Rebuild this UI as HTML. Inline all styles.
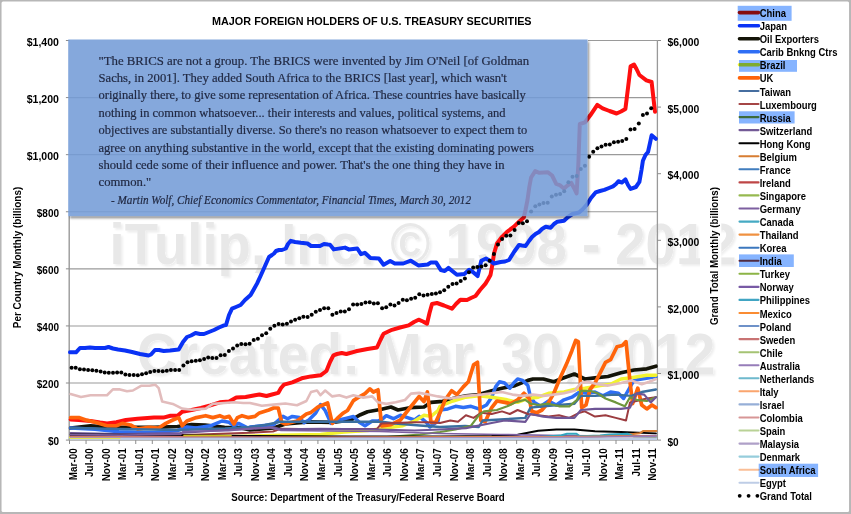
<!DOCTYPE html>
<html><head><meta charset="utf-8"><title>Major Foreign Holders of U.S. Treasury Securities</title>
<style>html,body{margin:0;padding:0;background:#b7b7b7;}body{width:851px;height:514px;overflow:hidden;}svg{display:block;}
.b{font-family:"Liberation Sans",sans-serif;font-weight:bold;fill:#000;}
.q{font-family:"Liberation Serif",serif;fill:#222a44;stroke:#222a44;stroke-width:0.2px;}
</style></head><body>
<svg width="851" height="514" viewBox="0 0 851 514">
<defs><filter id="sh" x="-5%" y="-5%" width="110%" height="115%"><feGaussianBlur in="SourceAlpha" stdDeviation="1.2"/><feOffset dx="1.2" dy="1.6"/><feComponentTransfer><feFuncA type="linear" slope="0.55"/></feComponentTransfer><feMerge><feMergeNode/><feMergeNode in="SourceGraphic"/></feMerge></filter>
<filter id="wm" x="-2%" y="-10%" width="104%" height="130%"><feGaussianBlur in="SourceAlpha" stdDeviation="1.0"/><feOffset dx="2" dy="2"/><feComponentTransfer><feFuncA type="linear" slope="0.07"/></feComponentTransfer><feMerge><feMergeNode/><feMergeNode in="SourceGraphic"/></feMerge></filter>
<filter id="bl" x="-5%" y="-5%" width="110%" height="115%"><feGaussianBlur stdDeviation="1.1"/></filter>
</defs>
<rect x="0" y="0" width="851" height="514" fill="#b7b7b7"/>
<rect x="1.55" y="1.45" width="847.5" height="510.65" rx="1.5" ry="1.5" fill="#fff"/>
<g filter="url(#wm)" fill="#e8e8e8" font-family="&quot;Liberation Sans&quot;,sans-serif" font-weight="bold">
<text x="109.6" y="264" font-size="56.8" textLength="627" lengthAdjust="spacingAndGlyphs">iTulip, Inc. © 1998 - 2012</text>
<text x="137" y="374.2" font-size="56.8" textLength="578.5" lengthAdjust="spacingAndGlyphs">Created: Mar. 30, 2012</text>
</g>
<line x1="69.5" y1="383.01" x2="657.4" y2="383.01" stroke="#9a9a9a" stroke-width="1.1"/>
<line x1="69.5" y1="325.93" x2="657.4" y2="325.93" stroke="#9a9a9a" stroke-width="1.1"/>
<line x1="69.5" y1="268.84" x2="657.4" y2="268.84" stroke="#9a9a9a" stroke-width="1.1"/>
<line x1="69.5" y1="211.76" x2="657.4" y2="211.76" stroke="#9a9a9a" stroke-width="1.1"/>
<line x1="69.5" y1="154.67" x2="657.4" y2="154.67" stroke="#9a9a9a" stroke-width="1.1"/>
<line x1="69.5" y1="97.59" x2="657.4" y2="97.59" stroke="#9a9a9a" stroke-width="1.1"/>
<line x1="588" y1="40.50" x2="657.4" y2="40.50" stroke="#9a9a9a" stroke-width="1.1"/>
<line x1="69.2" y1="216" x2="69.2" y2="440.1" stroke="#999" stroke-width="1.4"/>
<line x1="657.4" y1="40.5" x2="657.4" y2="440.1" stroke="#999" stroke-width="1.3"/>
<line x1="69.5" y1="440.1" x2="657.4" y2="440.1" stroke="#8c8c8c" stroke-width="1"/>
<line x1="65.9" y1="440.10" x2="69.5" y2="440.10" stroke="#8c8c8c" stroke-width="1"/>
<line x1="65.9" y1="383.01" x2="69.5" y2="383.01" stroke="#8c8c8c" stroke-width="1"/>
<line x1="65.9" y1="325.93" x2="69.5" y2="325.93" stroke="#8c8c8c" stroke-width="1"/>
<line x1="65.9" y1="268.84" x2="69.5" y2="268.84" stroke="#8c8c8c" stroke-width="1"/>
<line x1="65.9" y1="211.76" x2="69.5" y2="211.76" stroke="#8c8c8c" stroke-width="1"/>
<line x1="65.9" y1="154.67" x2="69.5" y2="154.67" stroke="#8c8c8c" stroke-width="1"/>
<line x1="65.9" y1="97.59" x2="69.5" y2="97.59" stroke="#8c8c8c" stroke-width="1"/>
<line x1="65.9" y1="40.50" x2="69.5" y2="40.50" stroke="#8c8c8c" stroke-width="1"/>
<line x1="657.4" y1="440.10" x2="661.0" y2="440.10" stroke="#8c8c8c" stroke-width="1"/>
<line x1="657.4" y1="373.50" x2="661.0" y2="373.50" stroke="#8c8c8c" stroke-width="1"/>
<line x1="657.4" y1="306.90" x2="661.0" y2="306.90" stroke="#8c8c8c" stroke-width="1"/>
<line x1="657.4" y1="240.30" x2="661.0" y2="240.30" stroke="#8c8c8c" stroke-width="1"/>
<line x1="657.4" y1="173.70" x2="661.0" y2="173.70" stroke="#8c8c8c" stroke-width="1"/>
<line x1="657.4" y1="107.10" x2="661.0" y2="107.10" stroke="#8c8c8c" stroke-width="1"/>
<line x1="657.4" y1="40.50" x2="661.0" y2="40.50" stroke="#8c8c8c" stroke-width="1"/>
<line x1="69.50" y1="440.1" x2="69.50" y2="444.0" stroke="#8c8c8c" stroke-width="1"/>
<line x1="86.06" y1="440.1" x2="86.06" y2="444.0" stroke="#8c8c8c" stroke-width="1"/>
<line x1="102.62" y1="440.1" x2="102.62" y2="444.0" stroke="#8c8c8c" stroke-width="1"/>
<line x1="119.18" y1="440.1" x2="119.18" y2="444.0" stroke="#8c8c8c" stroke-width="1"/>
<line x1="135.74" y1="440.1" x2="135.74" y2="444.0" stroke="#8c8c8c" stroke-width="1"/>
<line x1="152.30" y1="440.1" x2="152.30" y2="444.0" stroke="#8c8c8c" stroke-width="1"/>
<line x1="168.86" y1="440.1" x2="168.86" y2="444.0" stroke="#8c8c8c" stroke-width="1"/>
<line x1="185.42" y1="440.1" x2="185.42" y2="444.0" stroke="#8c8c8c" stroke-width="1"/>
<line x1="201.98" y1="440.1" x2="201.98" y2="444.0" stroke="#8c8c8c" stroke-width="1"/>
<line x1="218.55" y1="440.1" x2="218.55" y2="444.0" stroke="#8c8c8c" stroke-width="1"/>
<line x1="235.11" y1="440.1" x2="235.11" y2="444.0" stroke="#8c8c8c" stroke-width="1"/>
<line x1="251.67" y1="440.1" x2="251.67" y2="444.0" stroke="#8c8c8c" stroke-width="1"/>
<line x1="268.23" y1="440.1" x2="268.23" y2="444.0" stroke="#8c8c8c" stroke-width="1"/>
<line x1="284.79" y1="440.1" x2="284.79" y2="444.0" stroke="#8c8c8c" stroke-width="1"/>
<line x1="301.35" y1="440.1" x2="301.35" y2="444.0" stroke="#8c8c8c" stroke-width="1"/>
<line x1="317.91" y1="440.1" x2="317.91" y2="444.0" stroke="#8c8c8c" stroke-width="1"/>
<line x1="334.47" y1="440.1" x2="334.47" y2="444.0" stroke="#8c8c8c" stroke-width="1"/>
<line x1="351.03" y1="440.1" x2="351.03" y2="444.0" stroke="#8c8c8c" stroke-width="1"/>
<line x1="367.59" y1="440.1" x2="367.59" y2="444.0" stroke="#8c8c8c" stroke-width="1"/>
<line x1="384.15" y1="440.1" x2="384.15" y2="444.0" stroke="#8c8c8c" stroke-width="1"/>
<line x1="400.71" y1="440.1" x2="400.71" y2="444.0" stroke="#8c8c8c" stroke-width="1"/>
<line x1="417.27" y1="440.1" x2="417.27" y2="444.0" stroke="#8c8c8c" stroke-width="1"/>
<line x1="433.83" y1="440.1" x2="433.83" y2="444.0" stroke="#8c8c8c" stroke-width="1"/>
<line x1="450.39" y1="440.1" x2="450.39" y2="444.0" stroke="#8c8c8c" stroke-width="1"/>
<line x1="466.95" y1="440.1" x2="466.95" y2="444.0" stroke="#8c8c8c" stroke-width="1"/>
<line x1="483.51" y1="440.1" x2="483.51" y2="444.0" stroke="#8c8c8c" stroke-width="1"/>
<line x1="500.07" y1="440.1" x2="500.07" y2="444.0" stroke="#8c8c8c" stroke-width="1"/>
<line x1="516.64" y1="440.1" x2="516.64" y2="444.0" stroke="#8c8c8c" stroke-width="1"/>
<line x1="533.20" y1="440.1" x2="533.20" y2="444.0" stroke="#8c8c8c" stroke-width="1"/>
<line x1="549.76" y1="440.1" x2="549.76" y2="444.0" stroke="#8c8c8c" stroke-width="1"/>
<line x1="566.32" y1="440.1" x2="566.32" y2="444.0" stroke="#8c8c8c" stroke-width="1"/>
<line x1="582.88" y1="440.1" x2="582.88" y2="444.0" stroke="#8c8c8c" stroke-width="1"/>
<line x1="599.44" y1="440.1" x2="599.44" y2="444.0" stroke="#8c8c8c" stroke-width="1"/>
<line x1="616.00" y1="440.1" x2="616.00" y2="444.0" stroke="#8c8c8c" stroke-width="1"/>
<line x1="632.56" y1="440.1" x2="632.56" y2="444.0" stroke="#8c8c8c" stroke-width="1"/>
<line x1="649.12" y1="440.1" x2="649.12" y2="444.0" stroke="#8c8c8c" stroke-width="1"/>
<g fill="none" stroke-linejoin="round" stroke-linecap="round">
<polyline points="70.6,419.4 78.8,419.9 90.5,421.0 100.0,422.5 107.0,423.4 116.4,422.3 125.8,420.0 137.6,418.7 154.0,417.6 163.4,417.6 170.5,415.7 177.5,415.7 182.2,411.7 191.6,410.0 201.0,408.0 210.4,405.3 219.8,402.3 229.2,401.6 236.3,397.6 245.7,397.0 255.0,395.2 259.4,394.5 266.5,396.0 272.0,394.5 278.2,392.9 281.0,388.0 284.0,384.7 292.3,382.3 301.7,378.3 311.0,376.4 320.5,375.3 326.4,371.0 330.0,362.0 333.4,355.3 337.0,354.0 341.7,353.0 346.4,354.0 355.8,351.3 367.5,349.0 377.0,347.5 380.4,340.0 383.5,333.8 392.0,329.8 400.0,327.5 408.6,325.4 414.0,322.0 418.6,319.7 423.0,321.5 427.0,323.7 429.5,313.0 432.0,304.0 437.0,303.0 444.0,305.5 452.0,308.7 456.0,304.0 460.4,299.7 467.0,300.0 471.0,298.0 475.5,296.0 480.0,290.0 485.5,283.6 488.0,279.5 490.5,275.0 492.5,264.0 494.0,253.5 497.0,243.5 502.0,236.8 507.0,231.8 514.0,226.7 519.0,221.7 523.8,217.5 525.5,210.0 527.5,200.0 529.3,187.0 531.1,177.5 535.2,171.1 539.3,172.8 548.0,172.3 552.1,175.5 556.2,183.9 559.7,185.1 563.8,188.6 567.5,185.5 571.3,182.8 574.0,188.0 576.6,193.5 578.3,165.0 579.8,124.0 585.0,122.3 590.3,115.3 597.3,104.8 602.6,108.3 609.5,111.0 616.6,113.5 621.0,111.5 625.4,109.0 628.0,88.0 630.6,66.3 634.0,64.5 636.5,69.0 639.4,75.0 646.4,80.3 651.6,82.0 653.3,97.0 655.0,111.8" stroke="#ff0f0f" stroke-width="4.0"/>
<polyline points="70.0,352.3 76.0,352.3 80.0,348.0 85.0,348.0 90.0,347.5 95.0,348.0 100.0,348.0 105.0,348.0 108.5,347.0 113.0,348.5 118.0,349.5 125.0,350.5 132.0,352.0 140.0,354.0 148.6,355.5 151.0,354.5 155.0,350.0 159.0,350.0 163.7,351.0 170.0,350.5 178.7,349.5 183.0,342.0 187.0,337.0 191.0,335.5 195.5,333.0 200.0,334.0 204.0,334.0 209.0,332.0 214.0,330.0 219.0,327.5 224.0,325.4 226.0,325.0 229.0,315.0 232.0,308.7 236.0,307.0 240.6,305.0 245.0,300.0 250.6,295.0 254.0,289.0 257.0,283.6 261.0,275.0 265.0,266.0 269.0,257.0 272.0,255.0 274.0,253.5 276.0,251.0 279.0,250.0 282.0,250.0 285.8,248.5 288.0,244.0 290.8,240.8 295.0,242.0 300.8,242.8 307.5,243.5 311.0,246.0 314.0,246.0 320.0,246.0 324.0,244.0 328.0,244.5 330.0,244.7 333.8,249.4 345.0,247.6 348.8,249.4 357.3,248.5 361.0,254.1 364.8,252.8 370.4,257.9 378.9,258.5 383.6,264.8 390.2,261.1 394.8,263.5 403.3,263.5 410.8,260.7 418.3,265.4 427.7,264.5 430.6,262.6 436.2,262.6 440.9,270.1 444.7,271.1 448.4,267.9 456.9,274.8 464.4,273.9 469.1,269.7 472.9,272.0 477.6,276.1 481.3,260.7 486.0,258.5 489.8,260.7 494.0,263.5 500.5,262.0 505.0,261.5 509.0,260.0 514.0,252.0 519.0,245.0 522.0,245.5 525.6,246.0 529.0,241.0 532.0,237.0 535.5,234.0 539.0,232.0 542.0,229.0 545.7,226.8 550.7,227.8 554.0,224.0 557.4,221.7 564.0,220.7 568.0,217.0 572.5,214.0 579.0,212.5 583.0,209.0 586.8,204.6 591.0,198.0 595.6,192.4 600.0,191.0 604.3,189.9 609.0,188.0 613.0,186.4 616.0,184.0 618.4,181.2 621.9,182.6 625.4,179.4 628.0,185.0 630.6,188.9 635.9,187.0 639.4,181.9 641.5,170.0 642.9,160.8 645.5,155.0 648.0,152.0 650.0,143.0 651.6,135.3 655.8,138.8" stroke="#0a32f5" stroke-width="4.0"/>
<polyline points="70.6,428.0 90.5,425.8 107.0,427.0 130.0,427.4 154.0,427.4 177.5,426.5 191.6,424.6 205.0,425.0 224.5,427.4 240.0,427.6 250.0,430.0 273.5,428.0 285.3,424.0 308.8,421.8 332.3,422.3 351.0,420.0 360.5,414.7 367.5,411.7 381.6,409.3 391.0,407.0 398.0,410.0 409.8,407.7 424.0,407.0 431.0,402.3 442.7,401.3 453.0,398.5 465.9,395.9 478.8,394.6 491.7,390.8 502.0,388.2 515.0,385.6 527.9,380.4 533.0,379.0 543.4,379.0 553.8,381.7 564.0,377.8 574.4,374.0 584.8,379.0 595.0,377.8 608.0,376.5 621.0,372.7 634.0,370.0 646.8,368.8 655.9,366.2" stroke="#141408" stroke-width="3.7"/>
<polyline points="70.6,428.0 95.0,429.3 118.8,431.7 154.0,432.8 177.5,430.5 187.0,427.0 196.0,428.0 210.4,425.8 222.0,421.0 229.0,422.3 234.0,425.8 238.6,423.4 248.0,428.0 250.0,427.0 261.8,425.8 273.5,424.6 283.0,416.4 287.6,418.7 292.3,416.4 299.4,417.6 304.0,422.7 308.8,420.0 315.8,412.9 320.5,404.6 325.2,410.5 331.0,423.4 339.3,420.0 348.7,417.6 353.4,416.4 359.3,422.3 365.0,425.8 372.2,421.0 378.0,421.0 382.8,418.7 386.3,415.7 393.4,418.7 400.4,415.2 407.5,417.6 414.5,420.0 419.2,416.4 426.3,422.3 429.8,427.0 438.0,421.0 440.0,410.0 447.8,408.9 455.5,406.3 463.3,407.6 471.0,406.3 478.8,408.9 486.5,405.0 491.7,397.2 495.6,386.9 499.5,381.7 504.6,383.0 509.8,388.2 513.7,383.0 517.6,379.0 522.7,380.4 527.9,385.6 530.5,397.2 534.4,402.4 540.8,406.3 548.6,401.0 556.3,405.0 564.0,399.8 571.9,397.2 579.6,392.0 587.4,393.3 595.0,392.0 602.9,395.9 610.6,392.0 618.4,393.3 623.6,398.5 628.7,389.5 633.9,380.4 641.7,379.0 649.4,377.8 655.9,376.5" stroke="#2e6ef5" stroke-width="3.5"/>
<polyline points="70.6,438.0 200.0,437.5 280.5,435.2 320.5,434.5 344.0,432.0 367.5,430.5 381.6,428.8 391.0,427.4 402.8,425.8 414.5,421.0 424.0,415.2 431.0,416.4 438.0,410.5 440.0,406.3 453.0,401.0 465.9,397.2 478.8,395.9 491.7,397.2 507.2,399.8 517.6,402.4 527.9,398.5 538.2,397.2 548.6,393.3 564.0,392.0 574.4,389.5 584.8,388.2 600.3,385.6 610.6,384.3 621.0,379.0 631.3,377.8 646.8,375.2 655.9,375.2" stroke="#f2f230" stroke-width="3.4"/>
<polyline points="70.6,417.6 78.8,417.6 85.9,420.0 95.3,422.3 107.0,425.8 116.4,425.8 122.3,423.4 130.5,425.0 137.6,428.8 149.3,427.4 158.7,428.0 165.8,423.4 172.8,420.0 178.7,417.6 182.2,425.8 186.9,421.0 196.3,417.6 205.7,415.7 212.8,417.6 219.8,415.7 224.5,417.6 229.2,416.4 233.9,424.0 237.4,417.6 242.0,415.7 248.0,417.6 255.0,416.4 259.4,412.9 268.8,410.0 273.5,408.0 278.2,408.0 281.7,422.3 285.3,424.0 297.0,421.0 306.4,414.0 311.0,412.4 318.0,407.0 327.6,403.0 332.3,423.4 337.0,418.7 342.8,413.3 347.5,410.5 353.4,400.6 358.0,397.6 365.0,393.6 369.9,388.9 373.4,392.0 378.0,389.8 381.6,425.8 391.0,424.6 400.4,420.0 409.8,408.0 419.2,396.4 423.9,401.6 427.4,392.0 431.0,422.3 435.7,422.3 440.0,412.7 445.2,399.8 451.6,390.8 456.8,394.6 463.3,386.9 468.4,381.7 473.6,364.9 477.5,362.3 480.8,420.5 485.2,421.8 491.7,407.6 496.9,401.0 504.6,402.4 511.0,403.7 517.6,399.8 524.0,393.3 529.2,398.5 531.8,411.4 537.0,412.7 542.0,410.0 548.6,402.4 553.8,393.3 560.2,377.8 566.7,363.6 571.9,350.7 575.7,340.3 578.3,341.6 581.7,407.6 586.0,405.0 590.0,389.5 595.0,383.0 600.3,372.7 605.5,362.3 610.6,359.7 617.0,346.8 622.3,345.5 626.0,341.6 630.0,381.7 632.6,403.7 637.8,388.2 641.7,405.0 646.8,408.9 652.0,405.0 655.9,407.6" stroke="#ff640a" stroke-width="3.7"/>
<polyline points="70.6,428.0 120.0,429.0 180.0,430.0 225.0,428.5 250.0,427.0 265.0,425.0 280.5,421.8 330.0,421.8 381.6,421.8 395.0,423.5 420.0,425.5 440.0,427.0 465.0,426.0 478.8,427.0 482.7,420.5 504.6,419.2 525.3,417.9 530.5,407.6 543.4,406.3 559.0,405.0 574.4,403.7 580.9,395.9 595.0,395.9 615.8,394.6 631.3,395.9 641.7,392.0 655.9,389.5" stroke="#3a6f9f" stroke-width="2.4"/>
<polyline points="70.6,436.0 150.0,436.0 200.0,434.5 250.0,432.8 273.0,431.5 280.5,428.8 320.0,429.3 377.0,428.8 381.6,423.4 414.5,422.3 428.0,422.3 440.0,423.0 450.3,420.5 458.0,421.8 465.9,415.3 473.6,417.9 481.4,412.7 491.7,414.0 502.0,411.4 509.8,414.0 517.6,410.0 527.9,414.0 538.2,415.3 548.6,416.6 559.0,415.3 569.3,417.9 579.6,412.7 584.8,411.4 595.0,416.6 605.5,415.3 615.8,417.9 626.0,420.5 630.0,402.4 636.5,401.0 646.8,398.5 655.9,397.2" stroke="#9c3c40" stroke-width="2.0"/>
<polyline points="70.6,439.0 300.0,438.8 380.0,437.5 420.0,434.5 440.0,432.0 455.5,429.5 471.0,425.7 478.8,415.3 484.0,411.4 496.9,410.0 507.2,406.3 515.0,402.4 525.3,399.8 530.5,403.7 538.2,405.0 548.6,403.7 559.0,406.3 569.3,406.3 577.0,399.8 580.9,390.8 590.0,390.8 597.7,393.3 605.5,398.5 615.8,402.4 624.9,406.3 630.0,397.2 636.5,399.8 646.8,401.0 655.9,397.2" stroke="#6e963c" stroke-width="2.2"/>
<polyline points="70.6,433.0 120.0,434.0 180.0,433.0 225.0,430.0 250.0,428.8 273.5,427.4 280.5,429.3 320.5,428.8 367.5,429.3 414.5,430.5 440.0,429.5 465.9,428.2 491.7,423.0 504.6,420.5 525.3,421.8 530.5,414.0 543.4,416.6 556.3,417.9 574.4,417.9 580.9,410.0 595.0,408.9 621.0,408.9 630.0,407.6 636.5,393.3 644.2,394.6 650.7,402.4 655.9,397.2" stroke="#6e5596" stroke-width="2.2"/>
<polyline points="70.6,434.5 150.0,435.0 250.0,436.0 350.0,436.5 440.0,436.5 491.7,436.0 517.6,434.7 538.2,430.8 556.3,429.5 574.4,429.5 595.0,431.3 621.0,432.0 655.9,433.4" stroke="#000000" stroke-width="1.9"/>
<polyline points="70.6,434.6 120.0,435.2 180.6,434.4 183.0,431.6 205.0,431.2 228.8,430.6 252.0,428.4 270.0,427.4 281.0,430.5 330.0,431.0 380.0,431.5 440.0,433.5 500.0,434.5 560.0,435.5 620.0,436.0 655.9,435.6" stroke="#7d5fa0" stroke-width="1.7"/>
<polyline points="70.6,438.5 400.0,438.3 560.0,437.5 600.0,436.5 629.0,434.4 640.0,433.2 643.4,430.9 656.4,430.9" stroke="#d77d32" stroke-width="2.0"/>
<polyline points="70.6,438.6 300.0,438.4 480.0,438.0 540.0,437.0 560.0,435.6 567.0,433.8 576.5,433.8 580.0,436.2 600.0,435.5 609.4,434.4 628.0,433.8 634.0,436.5 655.9,437.0" stroke="#32a5be" stroke-width="2.0"/>
<polyline points="70.6,436.6 200.0,436.8 330.0,437.2 450.0,437.0 560.0,436.6 655.9,435.8" stroke="#c87373" stroke-width="1.4"/>
<polyline points="70.6,437.4 250.0,437.6 400.0,437.2 520.0,436.9 600.0,436.4 655.9,436.8" stroke="#f09141" stroke-width="1.4"/>
<polyline points="70.6,437.9 300.0,437.9 480.0,437.6 580.0,437.2 655.9,436.2" stroke="#967db9" stroke-width="1.4"/>
<polyline points="184.0,435.5 231.0,435.5" stroke="#c8c020" stroke-width="1.6"/>
<polyline points="70.6,394.0 81.0,397.0 90.5,395.2 107.0,395.2 112.9,389.4 120.0,389.4 127.0,391.2 132.9,390.5 141.0,385.8 149.3,385.8 155.2,384.7 158.7,388.2 162.2,401.6 172.8,403.9 182.2,408.6 191.6,409.8 205.7,408.6 212.8,403.9 224.5,403.0 233.9,402.3 243.3,403.0 250.0,403.0 261.8,405.8 273.5,404.6 285.3,403.5 297.0,405.3 306.4,401.0 311.0,392.0 317.0,390.5 320.5,395.2 325.2,390.5 332.3,396.4 339.3,395.2 346.4,397.6 353.4,395.2 362.8,397.6 372.2,396.4 378.0,402.3 386.3,403.9 395.7,402.3 405.0,400.0 411.0,393.6 419.2,392.9 428.6,394.5 438.0,396.4 450.3,398.5 465.9,395.9 481.4,394.6 491.7,393.3 502.0,392.0 512.4,394.6 522.7,395.9 533.0,394.6 543.4,395.9 553.8,394.6 564.0,393.3 574.4,390.8 580.9,383.0 587.4,381.7 597.7,384.3 608.0,385.6 621.0,383.0 631.3,380.4 641.7,384.3 649.4,381.7 655.9,379.0" stroke="#e2bcbc" stroke-width="2.6"/>
<polyline points="70.6,438.9 655.9,438.9" stroke="#bccbe3" stroke-width="2.4"/>
<polyline points="70.6,438.5 120.0,438.6" stroke="#e6e650" stroke-width="1.0"/>
</g>
<g fill="#000">
<circle cx="71.6" cy="367.7" r="2.0"/>
<circle cx="75.7" cy="367.8" r="2.0"/>
<circle cx="79.9" cy="369.3" r="2.0"/>
<circle cx="84.0" cy="369.6" r="2.0"/>
<circle cx="88.1" cy="369.9" r="2.0"/>
<circle cx="92.3" cy="370.2" r="2.0"/>
<circle cx="96.4" cy="370.8" r="2.0"/>
<circle cx="100.6" cy="371.4" r="2.0"/>
<circle cx="104.7" cy="372.4" r="2.0"/>
<circle cx="108.8" cy="372.8" r="2.0"/>
<circle cx="113.0" cy="372.7" r="2.0"/>
<circle cx="117.1" cy="372.5" r="2.0"/>
<circle cx="121.3" cy="372.5" r="2.0"/>
<circle cx="125.4" cy="374.6" r="2.0"/>
<circle cx="129.5" cy="375.0" r="2.0"/>
<circle cx="133.7" cy="375.1" r="2.0"/>
<circle cx="137.8" cy="375.2" r="2.0"/>
<circle cx="142.0" cy="374.2" r="2.0"/>
<circle cx="146.1" cy="373.2" r="2.0"/>
<circle cx="150.2" cy="372.0" r="2.0"/>
<circle cx="154.4" cy="371.0" r="2.0"/>
<circle cx="158.5" cy="371.1" r="2.0"/>
<circle cx="162.7" cy="371.3" r="2.0"/>
<circle cx="166.8" cy="370.7" r="2.0"/>
<circle cx="170.9" cy="370.0" r="2.0"/>
<circle cx="175.1" cy="370.0" r="2.0"/>
<circle cx="179.2" cy="370.0" r="2.0"/>
<circle cx="183.4" cy="365.6" r="2.0"/>
<circle cx="187.5" cy="362.3" r="2.0"/>
<circle cx="191.6" cy="361.2" r="2.0"/>
<circle cx="195.8" cy="360.8" r="2.0"/>
<circle cx="199.9" cy="360.3" r="2.0"/>
<circle cx="204.1" cy="358.9" r="2.0"/>
<circle cx="208.2" cy="357.4" r="2.0"/>
<circle cx="212.3" cy="358.0" r="2.0"/>
<circle cx="216.5" cy="357.9" r="2.0"/>
<circle cx="220.6" cy="355.2" r="2.0"/>
<circle cx="224.8" cy="355.1" r="2.0"/>
<circle cx="228.9" cy="351.0" r="2.0"/>
<circle cx="233.0" cy="348.6" r="2.0"/>
<circle cx="237.2" cy="345.5" r="2.0"/>
<circle cx="241.3" cy="343.9" r="2.0"/>
<circle cx="245.5" cy="344.2" r="2.0"/>
<circle cx="249.6" cy="343.8" r="2.0"/>
<circle cx="253.7" cy="340.0" r="2.0"/>
<circle cx="257.9" cy="338.8" r="2.0"/>
<circle cx="262.0" cy="335.3" r="2.0"/>
<circle cx="266.2" cy="333.2" r="2.0"/>
<circle cx="270.3" cy="328.7" r="2.0"/>
<circle cx="274.4" cy="325.8" r="2.0"/>
<circle cx="278.6" cy="323.9" r="2.0"/>
<circle cx="282.7" cy="324.6" r="2.0"/>
<circle cx="286.9" cy="323.7" r="2.0"/>
<circle cx="291.0" cy="321.4" r="2.0"/>
<circle cx="295.1" cy="319.7" r="2.0"/>
<circle cx="299.3" cy="318.3" r="2.0"/>
<circle cx="303.4" cy="316.7" r="2.0"/>
<circle cx="307.6" cy="317.1" r="2.0"/>
<circle cx="311.7" cy="314.7" r="2.0"/>
<circle cx="315.8" cy="311.8" r="2.0"/>
<circle cx="320.0" cy="310.0" r="2.0"/>
<circle cx="324.1" cy="308.2" r="2.0"/>
<circle cx="328.3" cy="308.3" r="2.0"/>
<circle cx="332.4" cy="314.8" r="2.0"/>
<circle cx="336.5" cy="312.9" r="2.0"/>
<circle cx="340.7" cy="311.6" r="2.0"/>
<circle cx="344.8" cy="311.6" r="2.0"/>
<circle cx="349.0" cy="309.3" r="2.0"/>
<circle cx="353.1" cy="304.4" r="2.0"/>
<circle cx="357.2" cy="304.4" r="2.0"/>
<circle cx="361.4" cy="304.0" r="2.0"/>
<circle cx="365.5" cy="302.6" r="2.0"/>
<circle cx="369.7" cy="302.3" r="2.0"/>
<circle cx="373.8" cy="303.5" r="2.0"/>
<circle cx="377.9" cy="303.2" r="2.0"/>
<circle cx="382.1" cy="308.2" r="2.0"/>
<circle cx="386.2" cy="307.3" r="2.0"/>
<circle cx="390.4" cy="304.6" r="2.0"/>
<circle cx="394.5" cy="305.4" r="2.0"/>
<circle cx="398.6" cy="303.0" r="2.0"/>
<circle cx="402.8" cy="299.7" r="2.0"/>
<circle cx="406.9" cy="300.3" r="2.0"/>
<circle cx="411.1" cy="298.8" r="2.0"/>
<circle cx="415.2" cy="297.7" r="2.0"/>
<circle cx="419.3" cy="294.2" r="2.0"/>
<circle cx="423.5" cy="295.4" r="2.0"/>
<circle cx="427.6" cy="294.7" r="2.0"/>
<circle cx="431.8" cy="294.1" r="2.0"/>
<circle cx="435.9" cy="293.5" r="2.0"/>
<circle cx="440.0" cy="292.2" r="2.0"/>
<circle cx="444.2" cy="290.3" r="2.0"/>
<circle cx="448.3" cy="286.8" r="2.0"/>
<circle cx="452.5" cy="284.1" r="2.0"/>
<circle cx="456.6" cy="283.4" r="2.0"/>
<circle cx="460.7" cy="280.9" r="2.0"/>
<circle cx="464.9" cy="278.4" r="2.0"/>
<circle cx="469.0" cy="272.3" r="2.0"/>
<circle cx="473.2" cy="267.4" r="2.0"/>
<circle cx="477.3" cy="267.0" r="2.0"/>
<circle cx="481.4" cy="266.6" r="2.0"/>
<circle cx="485.6" cy="265.3" r="2.0"/>
<circle cx="489.7" cy="260.7" r="2.0"/>
<circle cx="493.9" cy="254.1" r="2.0"/>
<circle cx="498.0" cy="244.4" r="2.0"/>
<circle cx="502.1" cy="238.9" r="2.0"/>
<circle cx="506.3" cy="235.8" r="2.0"/>
<circle cx="510.4" cy="235.6" r="2.0"/>
<circle cx="514.6" cy="230.1" r="2.0"/>
<circle cx="518.7" cy="223.0" r="2.0"/>
<circle cx="522.8" cy="223.2" r="2.0"/>
<circle cx="527.0" cy="221.2" r="2.0"/>
<circle cx="531.1" cy="211.4" r="2.0"/>
<circle cx="535.3" cy="206.2" r="2.0"/>
<circle cx="539.4" cy="204.6" r="2.0"/>
<circle cx="543.5" cy="202.9" r="2.0"/>
<circle cx="547.7" cy="202.8" r="2.0"/>
<circle cx="551.8" cy="196.4" r="2.0"/>
<circle cx="556.0" cy="194.7" r="2.0"/>
<circle cx="560.1" cy="194.0" r="2.0"/>
<circle cx="564.2" cy="191.3" r="2.0"/>
<circle cx="568.4" cy="182.3" r="2.0"/>
<circle cx="572.5" cy="176.7" r="2.0"/>
<circle cx="576.7" cy="176.0" r="2.0"/>
<circle cx="580.8" cy="169.0" r="2.0"/>
<circle cx="584.9" cy="165.8" r="2.0"/>
<circle cx="589.1" cy="156.8" r="2.0"/>
<circle cx="593.2" cy="151.8" r="2.0"/>
<circle cx="597.4" cy="148.3" r="2.0"/>
<circle cx="601.5" cy="146.4" r="2.0"/>
<circle cx="605.6" cy="144.7" r="2.0"/>
<circle cx="609.8" cy="144.6" r="2.0"/>
<circle cx="613.9" cy="142.2" r="2.0"/>
<circle cx="618.1" cy="141.8" r="2.0"/>
<circle cx="622.2" cy="141.0" r="2.0"/>
<circle cx="626.3" cy="139.0" r="2.0"/>
<circle cx="630.5" cy="129.6" r="2.0"/>
<circle cx="634.6" cy="128.9" r="2.0"/>
<circle cx="638.8" cy="123.5" r="2.0"/>
<circle cx="642.9" cy="115.0" r="2.0"/>
<circle cx="647.0" cy="113.5" r="2.0"/>
<circle cx="651.2" cy="108.2" r="2.0"/>
</g>
<clipPath id="oc"><path clip-rule="evenodd" d="M0,0H851V514H0Z M68.2,39.5H587.6V216.2H68.2Z"/></clipPath>
<g clip-path="url(#oc)"><rect x="70" y="42" width="519.1" height="176.3" fill="#000" fill-opacity="0.42" filter="url(#bl)"/></g>
<rect x="68.2" y="39.5" width="519.4" height="176.7" fill="#749cd7" fill-opacity="0.875"/>
<text class="q" x="98.5" y="64.5" font-size="12.9" textLength="430.7" lengthAdjust="spacingAndGlyphs">&quot;The BRICS are not a group. The BRICS were invented by Jim O'Neil [of Goldman</text>
<text class="q" x="98.5" y="81.9" font-size="12.9" textLength="408.3" lengthAdjust="spacingAndGlyphs">Sachs, in 2001]. They added South Africa to the BRICS [last year], which wasn't</text>
<text class="q" x="98.5" y="99.3" font-size="12.9" textLength="427.3" lengthAdjust="spacingAndGlyphs">originally there, to give some representation of Africa. These countries have basically</text>
<text class="q" x="98.5" y="116.8" font-size="12.9" textLength="406.9" lengthAdjust="spacingAndGlyphs">nothing in common whatsoever... their interests and values, political systems, and</text>
<text class="q" x="98.5" y="134.2" font-size="12.9" textLength="428.7" lengthAdjust="spacingAndGlyphs">objectives are substantially diverse. So there's no reason whatsoever to expect them to</text>
<text class="q" x="98.5" y="151.6" font-size="12.9" textLength="435.5" lengthAdjust="spacingAndGlyphs">agree on anything substantive in the world, except that the existing dominating powers</text>
<text class="q" x="98.5" y="169.0" font-size="12.9" textLength="406.2" lengthAdjust="spacingAndGlyphs">should cede some of their influence and power. That's the one thing they have in</text>
<text class="q" x="98.5" y="186.4" font-size="12.9" textLength="52.8" lengthAdjust="spacingAndGlyphs">common.&quot;</text>
<text class="q" x="111" y="203.6" font-size="12.2" font-style="italic" textLength="360" lengthAdjust="spacingAndGlyphs">- Martin Wolf, Chief Economics Commentator, Financial Times, March 30, 2012</text>
<text class="b" x="212" y="25.1" font-size="11.8" textLength="319.6" lengthAdjust="spacingAndGlyphs">MAJOR FOREIGN HOLDERS OF U.S. TREASURY SECURITIES</text>
<text class="b" x="231.3" y="500.7" font-size="10.6" textLength="273.5" lengthAdjust="spacingAndGlyphs">Source: Department of the Treasury/Federal Reserve Board</text>
<text class="b" x="47.9" y="445.1" font-size="10.7" textLength="11.1" lengthAdjust="spacingAndGlyphs">$0</text>
<text class="b" x="36.8" y="388.0" font-size="10.7" textLength="22.2" lengthAdjust="spacingAndGlyphs">$200</text>
<text class="b" x="36.8" y="330.9" font-size="10.7" textLength="22.2" lengthAdjust="spacingAndGlyphs">$400</text>
<text class="b" x="36.8" y="273.8" font-size="10.7" textLength="22.2" lengthAdjust="spacingAndGlyphs">$600</text>
<text class="b" x="36.8" y="216.8" font-size="10.7" textLength="22.2" lengthAdjust="spacingAndGlyphs">$800</text>
<text class="b" x="26.7" y="159.7" font-size="10.7" textLength="32.3" lengthAdjust="spacingAndGlyphs">$1,000</text>
<text class="b" x="26.7" y="102.6" font-size="10.7" textLength="32.3" lengthAdjust="spacingAndGlyphs">$1,200</text>
<text class="b" x="26.7" y="45.5" font-size="10.7" textLength="32.3" lengthAdjust="spacingAndGlyphs">$1,400</text>
<text class="b" x="667.5" y="445.9" font-size="10.7" textLength="11.2" lengthAdjust="spacingAndGlyphs">$0</text>
<text class="b" x="667.5" y="379.2" font-size="10.7" textLength="31.8" lengthAdjust="spacingAndGlyphs">$1,000</text>
<text class="b" x="667.5" y="312.6" font-size="10.7" textLength="31.8" lengthAdjust="spacingAndGlyphs">$2,000</text>
<text class="b" x="667.5" y="246.0" font-size="10.7" textLength="31.8" lengthAdjust="spacingAndGlyphs">$3,000</text>
<text class="b" x="667.5" y="179.4" font-size="10.7" textLength="31.8" lengthAdjust="spacingAndGlyphs">$4,000</text>
<text class="b" x="667.5" y="112.9" font-size="10.7" textLength="31.8" lengthAdjust="spacingAndGlyphs">$5,000</text>
<text class="b" x="667.5" y="46.2" font-size="10.7" textLength="31.8" lengthAdjust="spacingAndGlyphs">$6,000</text>
<text class="b" font-size="10.4" transform="translate(20.6,328.2) rotate(-90)" textLength="141.4" lengthAdjust="spacingAndGlyphs">Per Country Monthly (billions)</text>
<rect x="700" y="183" width="21.3" height="146" fill="#fff"/>
<text class="b" font-size="10.4" transform="translate(718.2,325) rotate(-90)" textLength="138" lengthAdjust="spacingAndGlyphs">Grand Total Monthly (billions)</text>
<text class="b" font-size="10.7" transform="translate(76.6,480.2) rotate(-90)" textLength="31.9" lengthAdjust="spacingAndGlyphs">Mar-00</text>
<text class="b" font-size="10.7" transform="translate(93.1,476.9) rotate(-90)" textLength="28.6" lengthAdjust="spacingAndGlyphs">Jul-00</text>
<text class="b" font-size="10.7" transform="translate(109.7,481.3) rotate(-90)" textLength="33.0" lengthAdjust="spacingAndGlyphs">Nov-00</text>
<text class="b" font-size="10.7" transform="translate(126.3,480.2) rotate(-90)" textLength="31.9" lengthAdjust="spacingAndGlyphs">Mar-01</text>
<text class="b" font-size="10.7" transform="translate(142.8,476.9) rotate(-90)" textLength="28.6" lengthAdjust="spacingAndGlyphs">Jul-01</text>
<text class="b" font-size="10.7" transform="translate(159.4,481.3) rotate(-90)" textLength="33.0" lengthAdjust="spacingAndGlyphs">Nov-01</text>
<text class="b" font-size="10.7" transform="translate(175.9,480.2) rotate(-90)" textLength="31.9" lengthAdjust="spacingAndGlyphs">Mar-02</text>
<text class="b" font-size="10.7" transform="translate(192.5,476.9) rotate(-90)" textLength="28.6" lengthAdjust="spacingAndGlyphs">Jul-02</text>
<text class="b" font-size="10.7" transform="translate(209.1,481.3) rotate(-90)" textLength="33.0" lengthAdjust="spacingAndGlyphs">Nov-02</text>
<text class="b" font-size="10.7" transform="translate(225.6,480.2) rotate(-90)" textLength="31.9" lengthAdjust="spacingAndGlyphs">Mar-03</text>
<text class="b" font-size="10.7" transform="translate(242.2,476.9) rotate(-90)" textLength="28.6" lengthAdjust="spacingAndGlyphs">Jul-03</text>
<text class="b" font-size="10.7" transform="translate(258.7,481.3) rotate(-90)" textLength="33.0" lengthAdjust="spacingAndGlyphs">Nov-03</text>
<text class="b" font-size="10.7" transform="translate(275.3,480.2) rotate(-90)" textLength="31.9" lengthAdjust="spacingAndGlyphs">Mar-04</text>
<text class="b" font-size="10.7" transform="translate(291.9,476.9) rotate(-90)" textLength="28.6" lengthAdjust="spacingAndGlyphs">Jul-04</text>
<text class="b" font-size="10.7" transform="translate(308.4,481.3) rotate(-90)" textLength="33.0" lengthAdjust="spacingAndGlyphs">Nov-04</text>
<text class="b" font-size="10.7" transform="translate(325.0,480.2) rotate(-90)" textLength="31.9" lengthAdjust="spacingAndGlyphs">Mar-05</text>
<text class="b" font-size="10.7" transform="translate(341.5,476.9) rotate(-90)" textLength="28.6" lengthAdjust="spacingAndGlyphs">Jul-05</text>
<text class="b" font-size="10.7" transform="translate(358.1,481.3) rotate(-90)" textLength="33.0" lengthAdjust="spacingAndGlyphs">Nov-05</text>
<text class="b" font-size="10.7" transform="translate(374.7,480.2) rotate(-90)" textLength="31.9" lengthAdjust="spacingAndGlyphs">Mar-06</text>
<text class="b" font-size="10.7" transform="translate(391.2,476.9) rotate(-90)" textLength="28.6" lengthAdjust="spacingAndGlyphs">Jul-06</text>
<text class="b" font-size="10.7" transform="translate(407.8,481.3) rotate(-90)" textLength="33.0" lengthAdjust="spacingAndGlyphs">Nov-06</text>
<text class="b" font-size="10.7" transform="translate(424.3,480.2) rotate(-90)" textLength="31.9" lengthAdjust="spacingAndGlyphs">Mar-07</text>
<text class="b" font-size="10.7" transform="translate(440.9,476.9) rotate(-90)" textLength="28.6" lengthAdjust="spacingAndGlyphs">Jul-07</text>
<text class="b" font-size="10.7" transform="translate(457.5,481.3) rotate(-90)" textLength="33.0" lengthAdjust="spacingAndGlyphs">Nov-07</text>
<text class="b" font-size="10.7" transform="translate(474.0,480.2) rotate(-90)" textLength="31.9" lengthAdjust="spacingAndGlyphs">Mar-08</text>
<text class="b" font-size="10.7" transform="translate(490.6,476.9) rotate(-90)" textLength="28.6" lengthAdjust="spacingAndGlyphs">Jul-08</text>
<text class="b" font-size="10.7" transform="translate(507.1,481.3) rotate(-90)" textLength="33.0" lengthAdjust="spacingAndGlyphs">Nov-08</text>
<text class="b" font-size="10.7" transform="translate(523.7,480.2) rotate(-90)" textLength="31.9" lengthAdjust="spacingAndGlyphs">Mar-09</text>
<text class="b" font-size="10.7" transform="translate(540.3,476.9) rotate(-90)" textLength="28.6" lengthAdjust="spacingAndGlyphs">Jul-09</text>
<text class="b" font-size="10.7" transform="translate(556.8,481.3) rotate(-90)" textLength="33.0" lengthAdjust="spacingAndGlyphs">Nov-09</text>
<text class="b" font-size="10.7" transform="translate(573.4,480.2) rotate(-90)" textLength="31.9" lengthAdjust="spacingAndGlyphs">Mar-10</text>
<text class="b" font-size="10.7" transform="translate(589.9,476.9) rotate(-90)" textLength="28.6" lengthAdjust="spacingAndGlyphs">Jul-10</text>
<text class="b" font-size="10.7" transform="translate(606.5,481.3) rotate(-90)" textLength="33.0" lengthAdjust="spacingAndGlyphs">Nov-10</text>
<text class="b" font-size="10.7" transform="translate(623.1,479.7) rotate(-90)" textLength="31.4" lengthAdjust="spacingAndGlyphs">Mar-11</text>
<text class="b" font-size="10.7" transform="translate(639.6,476.4) rotate(-90)" textLength="28.1" lengthAdjust="spacingAndGlyphs">Jul-11</text>
<text class="b" font-size="10.7" transform="translate(656.2,480.8) rotate(-90)" textLength="32.5" lengthAdjust="spacingAndGlyphs">Nov-11</text>
<line x1="739.5" y1="12.6" x2="758.5" y2="12.6" stroke="#ff0f0f" stroke-width="3.6" stroke-linecap="round"/>
<text class="b" x="759.7" y="17.1" font-size="10" textLength="26.3" lengthAdjust="spacingAndGlyphs">China</text>
<line x1="739.5" y1="25.7" x2="758.5" y2="25.7" stroke="#0a32f5" stroke-width="3.6" stroke-linecap="round"/>
<text class="b" x="759.7" y="30.2" font-size="10" textLength="27.3" lengthAdjust="spacingAndGlyphs">Japan</text>
<line x1="739.5" y1="38.7" x2="758.5" y2="38.7" stroke="#141408" stroke-width="3.6" stroke-linecap="round"/>
<text class="b" x="759.7" y="43.2" font-size="10" textLength="59.3" lengthAdjust="spacingAndGlyphs">Oil Exporters</text>
<line x1="739.5" y1="51.8" x2="758.5" y2="51.8" stroke="#2e6ef5" stroke-width="3.6" stroke-linecap="round"/>
<text class="b" x="759.7" y="56.3" font-size="10" textLength="77.7" lengthAdjust="spacingAndGlyphs">Carib Bnkng Ctrs</text>
<line x1="739.5" y1="64.8" x2="758.5" y2="64.8" stroke="#f2f230" stroke-width="3.6" stroke-linecap="round"/>
<text class="b" x="759.7" y="69.3" font-size="10" textLength="25.7" lengthAdjust="spacingAndGlyphs">Brazil</text>
<line x1="739.5" y1="77.9" x2="758.5" y2="77.9" stroke="#ff640a" stroke-width="3.6" stroke-linecap="round"/>
<text class="b" x="759.7" y="82.4" font-size="10" textLength="13.6" lengthAdjust="spacingAndGlyphs">UK</text>
<line x1="739.5" y1="91.0" x2="758.5" y2="91.0" stroke="#466ea0" stroke-width="2.1" stroke-linecap="round"/>
<text class="b" x="759.7" y="95.5" font-size="10" textLength="31.3" lengthAdjust="spacingAndGlyphs">Taiwan</text>
<line x1="739.5" y1="104.0" x2="758.5" y2="104.0" stroke="#a54646" stroke-width="2.1" stroke-linecap="round"/>
<text class="b" x="759.7" y="108.5" font-size="10" textLength="57.2" lengthAdjust="spacingAndGlyphs">Luxembourg</text>
<line x1="739.5" y1="117.1" x2="758.5" y2="117.1" stroke="#73963c" stroke-width="2.1" stroke-linecap="round"/>
<text class="b" x="759.7" y="121.6" font-size="10" textLength="31.0" lengthAdjust="spacingAndGlyphs">Russia</text>
<line x1="739.5" y1="130.1" x2="758.5" y2="130.1" stroke="#735a96" stroke-width="2.1" stroke-linecap="round"/>
<text class="b" x="759.7" y="134.6" font-size="10" textLength="52.5" lengthAdjust="spacingAndGlyphs">Switzerland</text>
<line x1="739.5" y1="143.2" x2="758.5" y2="143.2" stroke="#000000" stroke-width="2.1" stroke-linecap="round"/>
<text class="b" x="759.7" y="147.7" font-size="10" textLength="50.9" lengthAdjust="spacingAndGlyphs">Hong Kong</text>
<line x1="739.5" y1="156.3" x2="758.5" y2="156.3" stroke="#d77d32" stroke-width="2.1" stroke-linecap="round"/>
<text class="b" x="759.7" y="160.8" font-size="10" textLength="37.3" lengthAdjust="spacingAndGlyphs">Belgium</text>
<line x1="739.5" y1="169.3" x2="758.5" y2="169.3" stroke="#417dbe" stroke-width="2.1" stroke-linecap="round"/>
<text class="b" x="759.7" y="173.8" font-size="10" textLength="31.0" lengthAdjust="spacingAndGlyphs">France</text>
<line x1="739.5" y1="182.4" x2="758.5" y2="182.4" stroke="#be4646" stroke-width="2.1" stroke-linecap="round"/>
<text class="b" x="759.7" y="186.9" font-size="10" textLength="31.0" lengthAdjust="spacingAndGlyphs">Ireland</text>
<line x1="739.5" y1="195.4" x2="758.5" y2="195.4" stroke="#96b950" stroke-width="2.1" stroke-linecap="round"/>
<text class="b" x="759.7" y="199.9" font-size="10" textLength="46.2" lengthAdjust="spacingAndGlyphs">Singapore</text>
<line x1="739.5" y1="208.5" x2="758.5" y2="208.5" stroke="#7d5fa0" stroke-width="2.1" stroke-linecap="round"/>
<text class="b" x="759.7" y="213.0" font-size="10" textLength="41.0" lengthAdjust="spacingAndGlyphs">Germany</text>
<line x1="739.5" y1="221.6" x2="758.5" y2="221.6" stroke="#46aac3" stroke-width="2.1" stroke-linecap="round"/>
<text class="b" x="759.7" y="226.1" font-size="10" textLength="34.1" lengthAdjust="spacingAndGlyphs">Canada</text>
<line x1="739.5" y1="234.6" x2="758.5" y2="234.6" stroke="#f09141" stroke-width="2.1" stroke-linecap="round"/>
<text class="b" x="759.7" y="239.1" font-size="10" textLength="38.9" lengthAdjust="spacingAndGlyphs">Thailand</text>
<line x1="739.5" y1="247.7" x2="758.5" y2="247.7" stroke="#3c78be" stroke-width="2.1" stroke-linecap="round"/>
<text class="b" x="759.7" y="252.2" font-size="10" textLength="26.8" lengthAdjust="spacingAndGlyphs">Korea</text>
<line x1="739.5" y1="260.7" x2="758.5" y2="260.7" stroke="#963c41" stroke-width="2.1" stroke-linecap="round"/>
<text class="b" x="759.7" y="265.2" font-size="10" textLength="22.1" lengthAdjust="spacingAndGlyphs">India</text>
<line x1="739.5" y1="273.8" x2="758.5" y2="273.8" stroke="#8cb446" stroke-width="2.1" stroke-linecap="round"/>
<text class="b" x="759.7" y="278.3" font-size="10" textLength="30.3" lengthAdjust="spacingAndGlyphs">Turkey</text>
<line x1="739.5" y1="286.9" x2="758.5" y2="286.9" stroke="#785aa5" stroke-width="2.1" stroke-linecap="round"/>
<text class="b" x="759.7" y="291.4" font-size="10" textLength="34.1" lengthAdjust="spacingAndGlyphs">Norway</text>
<line x1="739.5" y1="299.9" x2="758.5" y2="299.9" stroke="#41a5c3" stroke-width="2.1" stroke-linecap="round"/>
<text class="b" x="759.7" y="304.4" font-size="10" textLength="50.4" lengthAdjust="spacingAndGlyphs">Philippines</text>
<line x1="739.5" y1="313.0" x2="758.5" y2="313.0" stroke="#fa8c32" stroke-width="2.1" stroke-linecap="round"/>
<text class="b" x="759.7" y="317.5" font-size="10" textLength="32.0" lengthAdjust="spacingAndGlyphs">Mexico</text>
<line x1="739.5" y1="326.0" x2="758.5" y2="326.0" stroke="#6e91c8" stroke-width="2.1" stroke-linecap="round"/>
<text class="b" x="759.7" y="330.5" font-size="10" textLength="31.5" lengthAdjust="spacingAndGlyphs">Poland</text>
<line x1="739.5" y1="339.1" x2="758.5" y2="339.1" stroke="#c87373" stroke-width="2.1" stroke-linecap="round"/>
<text class="b" x="759.7" y="343.6" font-size="10" textLength="35.7" lengthAdjust="spacingAndGlyphs">Sweden</text>
<line x1="739.5" y1="352.2" x2="758.5" y2="352.2" stroke="#a5c373" stroke-width="2.1" stroke-linecap="round"/>
<text class="b" x="759.7" y="356.7" font-size="10" textLength="23.1" lengthAdjust="spacingAndGlyphs">Chile</text>
<line x1="739.5" y1="365.2" x2="758.5" y2="365.2" stroke="#967db9" stroke-width="2.1" stroke-linecap="round"/>
<text class="b" x="759.7" y="369.7" font-size="10" textLength="40.4" lengthAdjust="spacingAndGlyphs">Australia</text>
<line x1="739.5" y1="378.3" x2="758.5" y2="378.3" stroke="#6eb9cd" stroke-width="2.1" stroke-linecap="round"/>
<text class="b" x="759.7" y="382.8" font-size="10" textLength="54.6" lengthAdjust="spacingAndGlyphs">Netherlands</text>
<line x1="739.5" y1="391.3" x2="758.5" y2="391.3" stroke="#faa56e" stroke-width="2.1" stroke-linecap="round"/>
<text class="b" x="759.7" y="395.8" font-size="10" textLength="18.9" lengthAdjust="spacingAndGlyphs">Italy</text>
<line x1="739.5" y1="404.4" x2="758.5" y2="404.4" stroke="#96afd7" stroke-width="2.1" stroke-linecap="round"/>
<text class="b" x="759.7" y="408.9" font-size="10" textLength="24.7" lengthAdjust="spacingAndGlyphs">Israel</text>
<line x1="739.5" y1="417.5" x2="758.5" y2="417.5" stroke="#d79696" stroke-width="2.1" stroke-linecap="round"/>
<text class="b" x="759.7" y="422.0" font-size="10" textLength="43.1" lengthAdjust="spacingAndGlyphs">Colombia</text>
<line x1="739.5" y1="430.5" x2="758.5" y2="430.5" stroke="#b9d296" stroke-width="2.1" stroke-linecap="round"/>
<text class="b" x="759.7" y="435.0" font-size="10" textLength="25.7" lengthAdjust="spacingAndGlyphs">Spain</text>
<line x1="739.5" y1="443.6" x2="758.5" y2="443.6" stroke="#afa0c8" stroke-width="2.1" stroke-linecap="round"/>
<text class="b" x="759.7" y="448.1" font-size="10" textLength="39.4" lengthAdjust="spacingAndGlyphs">Malaysia</text>
<line x1="739.5" y1="456.6" x2="758.5" y2="456.6" stroke="#96cddc" stroke-width="2.1" stroke-linecap="round"/>
<text class="b" x="759.7" y="461.1" font-size="10" textLength="40.4" lengthAdjust="spacingAndGlyphs">Denmark</text>
<line x1="739.5" y1="469.7" x2="758.5" y2="469.7" stroke="#fabe96" stroke-width="2.1" stroke-linecap="round"/>
<text class="b" x="759.7" y="474.2" font-size="10" textLength="55.8" lengthAdjust="spacingAndGlyphs">South Africa</text>
<line x1="739.5" y1="482.8" x2="758.5" y2="482.8" stroke="#becde6" stroke-width="2.1" stroke-linecap="round"/>
<text class="b" x="759.7" y="487.3" font-size="10" textLength="26.3" lengthAdjust="spacingAndGlyphs">Egypt</text>
<circle cx="739.7" cy="495.8" r="1.9" fill="#000"/>
<circle cx="748.6" cy="495.8" r="1.9" fill="#000"/>
<circle cx="757.4" cy="495.8" r="1.9" fill="#000"/>
<text class="b" x="759.7" y="500.3" font-size="10" textLength="52.3" lengthAdjust="spacingAndGlyphs">Grand Total</text>
<rect x="737.7" y="5.8" width="53.9" height="15.0" fill="#86b4ff" style="mix-blend-mode:multiply"/>
<rect x="739" y="60" width="58" height="11.8" fill="#86b4ff" style="mix-blend-mode:multiply"/>
<rect x="739" y="111.3" width="55.6" height="12.2" fill="#86b4ff" style="mix-blend-mode:multiply"/>
<rect x="739" y="254.4" width="54.8" height="12.6" fill="#86b4ff" style="mix-blend-mode:multiply"/>
<rect x="758.7" y="463.7" width="59.4" height="13.3" fill="#86b4ff" style="mix-blend-mode:multiply"/>
</svg></body></html>
